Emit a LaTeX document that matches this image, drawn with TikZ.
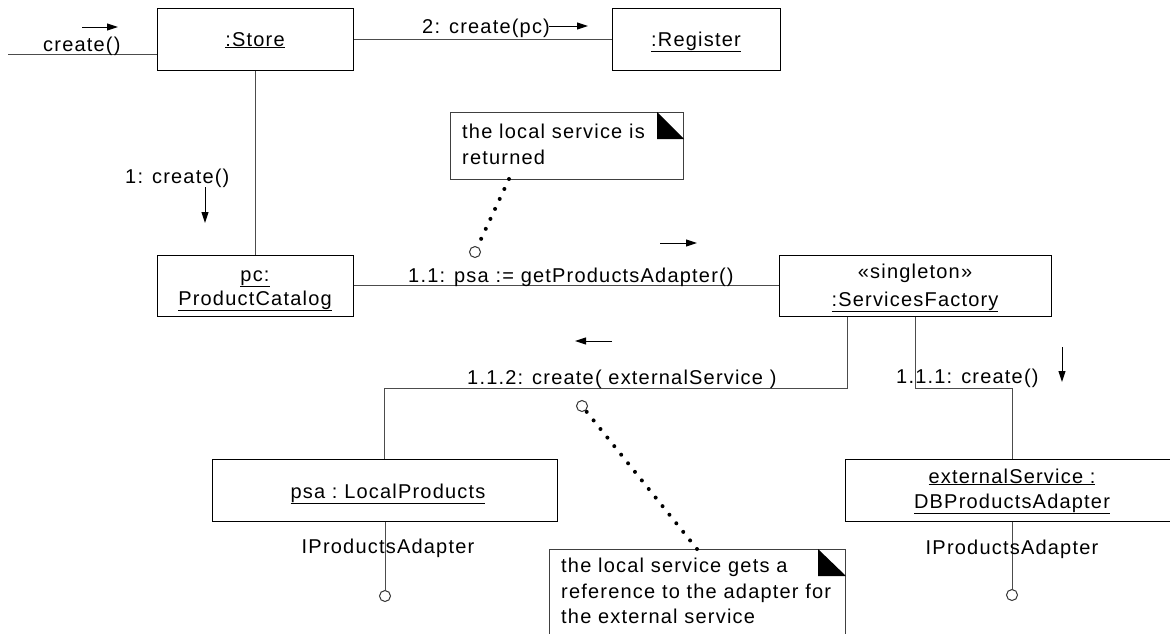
\documentclass[tikz,border=0pt]{standalone}
\usepackage{fontspec}
\setmainfont{Liberation Sans}[LetterSpace=6]
\usetikzlibrary{arrows.meta}
\begin{document}
\begin{tikzpicture}[x=1pt,y=-1pt,
  every node/.style={font=\fontsize{20}{25}\selectfont},
  obj/.style={draw=black, line width=1pt, inner sep=0pt},
  link/.style={draw=black!70, line width=1pt},
  msg/.style={anchor=base west, inner sep=0pt},
  lbl/.style={anchor=base, inner sep=0pt},
  arr/.style={line width=1pt, -{Triangle[length=11pt,width=7pt]}},
  note/.style={draw=black!75, line width=1pt, inner sep=0pt},
  dots/.style={line width=4pt, line cap=round, dash pattern=on 0pt off 11pt},
  lolli/.style={circle, draw=black!80, line width=1pt, fill=white, inner sep=0pt, minimum size=11pt},
]
\useasboundingbox (0,0) rectangle (1170,633);
\fill[white] (0,0) rectangle (1170,633);
\clip (0,0) rectangle (1170,633);

% objects
\node[obj, minimum width=196pt, minimum height=62pt] (store) at (255,39) {};
\node[lbl] (store-t) at (255,46) {\underline{:Store}};
\node[obj, minimum width=168pt, minimum height=62pt] (register) at (696,39) {};
\node[lbl] (register-t) at (696,46) {\underline{:Register}};
\node[obj, minimum width=196pt, minimum height=61pt] (pc) at (255,285.5) {};
\node[lbl] (pc-t1) at (255,281) {\underline{pc:}};
\node[lbl] (pc-t2) at (255,305) {\underline{ProductCatalog}};
\node[obj, minimum width=272pt, minimum height=61pt] (sf) at (915,285.5) {};
\node[lbl] (sf-t1) at (915,278) {«singleton»};
\node[lbl] (sf-t2) at (915,306) {\underline{:ServicesFactory}};
\node[obj, minimum width=345pt, minimum height=62pt] (psa) at (384.5,490) {};
\node[lbl] (psa-t) at (388,498) {\underline{psa :\ LocalProducts}};
\node[obj, minimum width=334pt, minimum height=62pt] (ext) at (1012,490) {};
\node[lbl] (ext-t1) at (1012,483) {\underline{externalService :}};
\node[lbl] (ext-t2) at (1012,508) {\underline{DBProductsAdapter}};

% links
\coordinate (in) at (8,54);
\draw[link] (in) -- (in -| store.west);
\draw[link] (store) -- (register);
\draw[link] (store) -- (pc);
\draw[link] (pc) -- (sf);
\coordinate (j1) at (847,388);
\coordinate (j2) at (915,388);
\draw[link] (sf.south -| j1) -- (j1) -| (psa.north);
\draw[link] (sf.south) -- (j2) -| (ext.north);

% lollipops
\node[lolli] (lp1) at (385,596) {};
\node[lolli] (lp2) at (1012,595) {};
\draw[link] (psa.south -| lp1) -- (lp1.north);
\draw[link] (ext.south) -- (lp2.north);
\node[lbl] (i1) at (388,553) {IProductsAdapter};
\node[lbl] (i2) at (1012,554) {IProductsAdapter};

% messages
\node[msg] (m0) at (43,51) {create()};
\coordinate (a0s) at (82,27); \coordinate (a0e) at (118,27);
\draw[arr] (a0s) -- (a0e);
\node[msg] (m2) at (422,33) {2: create(pc)};
\coordinate (a2s) at (549,26); \coordinate (a2e) at (588,26);
\draw[arr] (a2s) -- (a2e);
\node[msg] (m1) at (125,183) {1: create()};
\coordinate (a1s) at (205,187); \coordinate (a1e) at (205,223);
\draw[arr] (a1s) -- (a1e);
\node[msg] (m11) at (408,282) {1.1: psa := getProductsAdapter()};
\coordinate (a11s) at (660,243); \coordinate (a11e) at (697,243);
\draw[arr] (a11s) -- (a11e);
\node[msg] (m112) at (467,384) {1.1.2: create( externalService )};
\coordinate (a112s) at (612,341); \coordinate (a112e) at (575,341);
\draw[arr] (a112s) -- (a112e);
\node[msg] (m111) at (896,383) {1.1.1: create()};
\coordinate (a111s) at (1062,347); \coordinate (a111e) at (1062,382);
\draw[arr] (a111s) -- (a111e);

% note 1
\node[note, minimum width=233pt, minimum height=67pt, anchor=north west] (n1) at (450,112) {};
\fill (n1.north east) ++(-27,0) -- ++(0,27) -- ++(27,0) -- cycle;
\node[msg] (n1t1) at (462,138) {the local service is};
\node[msg] (n1t2) at (462,164) {returned};
\node[lolli] (c1) at (475,252) {};
\coordinate (n1a) at (509,179);
\draw[dots] (n1a) -- (c1);

% note 2
\node[note, minimum width=296pt, minimum height=120pt, anchor=north west] (n2) at (549,549) {};
\fill (n2.north east) ++(-28,0) -- ++(0,27) -- ++(28,0) -- cycle;
\node[msg] (n2t1) at (561,572) {the local service gets a};
\node[msg] (n2t2) at (561,598) {reference to the adapter for};
\node[msg] (n2t3) at (561,623) {the external service};
\node[lolli] (c2) at (582,406) {};
\coordinate (n2a) at (697,549);
\draw[dots] (n2a) -- (c2);
\end{tikzpicture}
\end{document}
